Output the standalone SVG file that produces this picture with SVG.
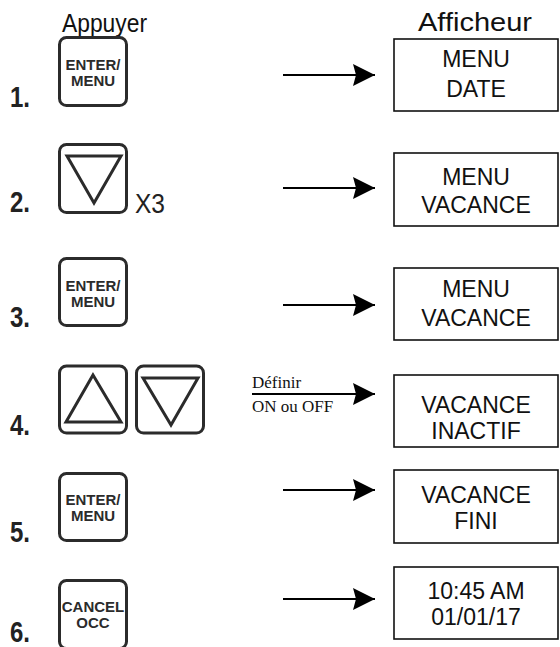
<svg xmlns="http://www.w3.org/2000/svg" width="560" height="647" viewBox="0 0 560 647">
<defs>
<style>
.btn{fill:#fff;stroke:#2b2b2b;stroke-width:3}
.tri{fill:none;stroke:#2b2b2b;stroke-width:3;stroke-linejoin:miter}
.bt{font-family:"Liberation Sans",Arial,sans-serif;font-weight:bold;font-size:15px;fill:#2b2b2b;text-anchor:middle}
.num{font-family:"Liberation Sans",Arial,sans-serif;font-weight:bold;font-size:29px;fill:#222}
.hd{font-family:"Liberation Sans",Arial,sans-serif;font-size:26px;fill:#111}
.x3{font-family:"Liberation Sans",Arial,sans-serif;font-size:28px;fill:#222}
.box{fill:#fff;stroke:#111;stroke-width:1.6}
.bx{font-family:"Liberation Sans",Arial,sans-serif;font-size:23px;fill:#111;text-anchor:middle}
.lab{font-family:"Liberation Serif","Times New Roman",serif;font-size:17px;fill:#111}
.ln{stroke:#000;stroke-width:2.2;fill:none}
</style>
<marker id="ah" viewBox="0 0 22 22" refX="22" refY="11" markerWidth="22" markerHeight="22" markerUnits="userSpaceOnUse" orient="auto">
<path d="M0,0 L22,11 L0,22 L3,11 Z" fill="#000"/>
</marker>
</defs>

<text class="hd" x="62" y="32" textLength="85" lengthAdjust="spacingAndGlyphs">Appuyer</text>
<text class="hd" x="418" y="31" textLength="114" lengthAdjust="spacingAndGlyphs">Afficheur</text>

<g id="step1">
<text class="num" x="10" y="107" textLength="20" lengthAdjust="spacingAndGlyphs">1.</text>
<rect class="btn" x="59.5" y="37.5" width="67" height="68" rx="7"/>
<text class="bt" x="93" y="70">ENTER/</text>
<text class="bt" x="93" y="86">MENU</text>
</g>
<g id="step2">
<text class="num" x="10" y="212" textLength="20" lengthAdjust="spacingAndGlyphs">2.</text>
<rect class="btn" x="59.5" y="144.5" width="67" height="68" rx="7"/>
<polygon class="tri" points="67,156 121,156 94,203"/>
<text class="x3" x="135" y="213" textLength="30" lengthAdjust="spacingAndGlyphs">X3</text>
</g>
<g id="step3">
<text class="num" x="10" y="327" textLength="20" lengthAdjust="spacingAndGlyphs">3.</text>
<rect class="btn" x="59.5" y="258.5" width="67" height="67" rx="7"/>
<text class="bt" x="93" y="291">ENTER/</text>
<text class="bt" x="93" y="307">MENU</text>
</g>
<g id="step4">
<text class="num" x="10" y="435" textLength="20" lengthAdjust="spacingAndGlyphs">4.</text>
<rect class="btn" x="59.5" y="366" width="67" height="67" rx="7"/>
<polygon class="tri" points="93,375 121,422 66,422"/>
<rect class="btn" x="136.5" y="366" width="67" height="67" rx="7"/>
<polygon class="tri" points="143,378 198,378 171,425"/>
</g>
<g id="step5">
<text class="num" x="10" y="542" textLength="20" lengthAdjust="spacingAndGlyphs">5.</text>
<rect class="btn" x="59.5" y="473.5" width="67" height="67" rx="7"/>
<text class="bt" x="93" y="505">ENTER/</text>
<text class="bt" x="93" y="521">MENU</text>
</g>
<g id="step6">
<text class="num" x="10" y="642" textLength="20" lengthAdjust="spacingAndGlyphs">6.</text>
<rect class="btn" x="59.5" y="580.5" width="67" height="68" rx="7"/>
<text class="bt" x="93" y="612">CANCEL</text>
<text class="bt" x="93" y="628">OCC</text>
</g>

<g id="connectors">
<line class="ln" x1="283" y1="75" x2="375" y2="75" marker-end="url(#ah)"/>
<line class="ln" x1="283" y1="188" x2="375" y2="188" marker-end="url(#ah)"/>
<line class="ln" x1="283" y1="305" x2="375" y2="305" marker-end="url(#ah)"/>
<line class="ln" x1="252" y1="394" x2="375" y2="394" marker-end="url(#ah)"/>
<line class="ln" x1="283" y1="490" x2="375" y2="490" marker-end="url(#ah)"/>
<line class="ln" x1="283" y1="599" x2="375" y2="599" marker-end="url(#ah)"/>
<text class="lab" x="252" y="388">Définir</text>
<text class="lab" x="252" y="412">ON ou OFF</text>
</g>

<g id="display1">
<rect class="box" x="394" y="39" width="164" height="72"/>
<text class="bx" x="476" y="67">MENU</text>
<text class="bx" x="476" y="97">DATE</text>
</g>
<g id="display2">
<rect class="box" x="394" y="153" width="164" height="73"/>
<text class="bx" x="476" y="185">MENU</text>
<text class="bx" x="476" y="213">VACANCE</text>
</g>
<g id="display3">
<rect class="box" x="394" y="268" width="164" height="72"/>
<text class="bx" x="476" y="297">MENU</text>
<text class="bx" x="476" y="326">VACANCE</text>
</g>
<g id="display4">
<rect class="box" x="394" y="375" width="164" height="72"/>
<text class="bx" x="476" y="413">VACANCE</text>
<text class="bx" x="476" y="439">INACTIF</text>
</g>
<g id="display5">
<rect class="box" x="394" y="470" width="164" height="73"/>
<text class="bx" x="476" y="503">VACANCE</text>
<text class="bx" x="476" y="529">FINI</text>
</g>
<g id="display6">
<rect class="box" x="394" y="567" width="164" height="72"/>
<text class="bx" x="476" y="599">10:45 AM</text>
<text class="bx" x="476" y="625">01/01/17</text>
</g>
</svg>
